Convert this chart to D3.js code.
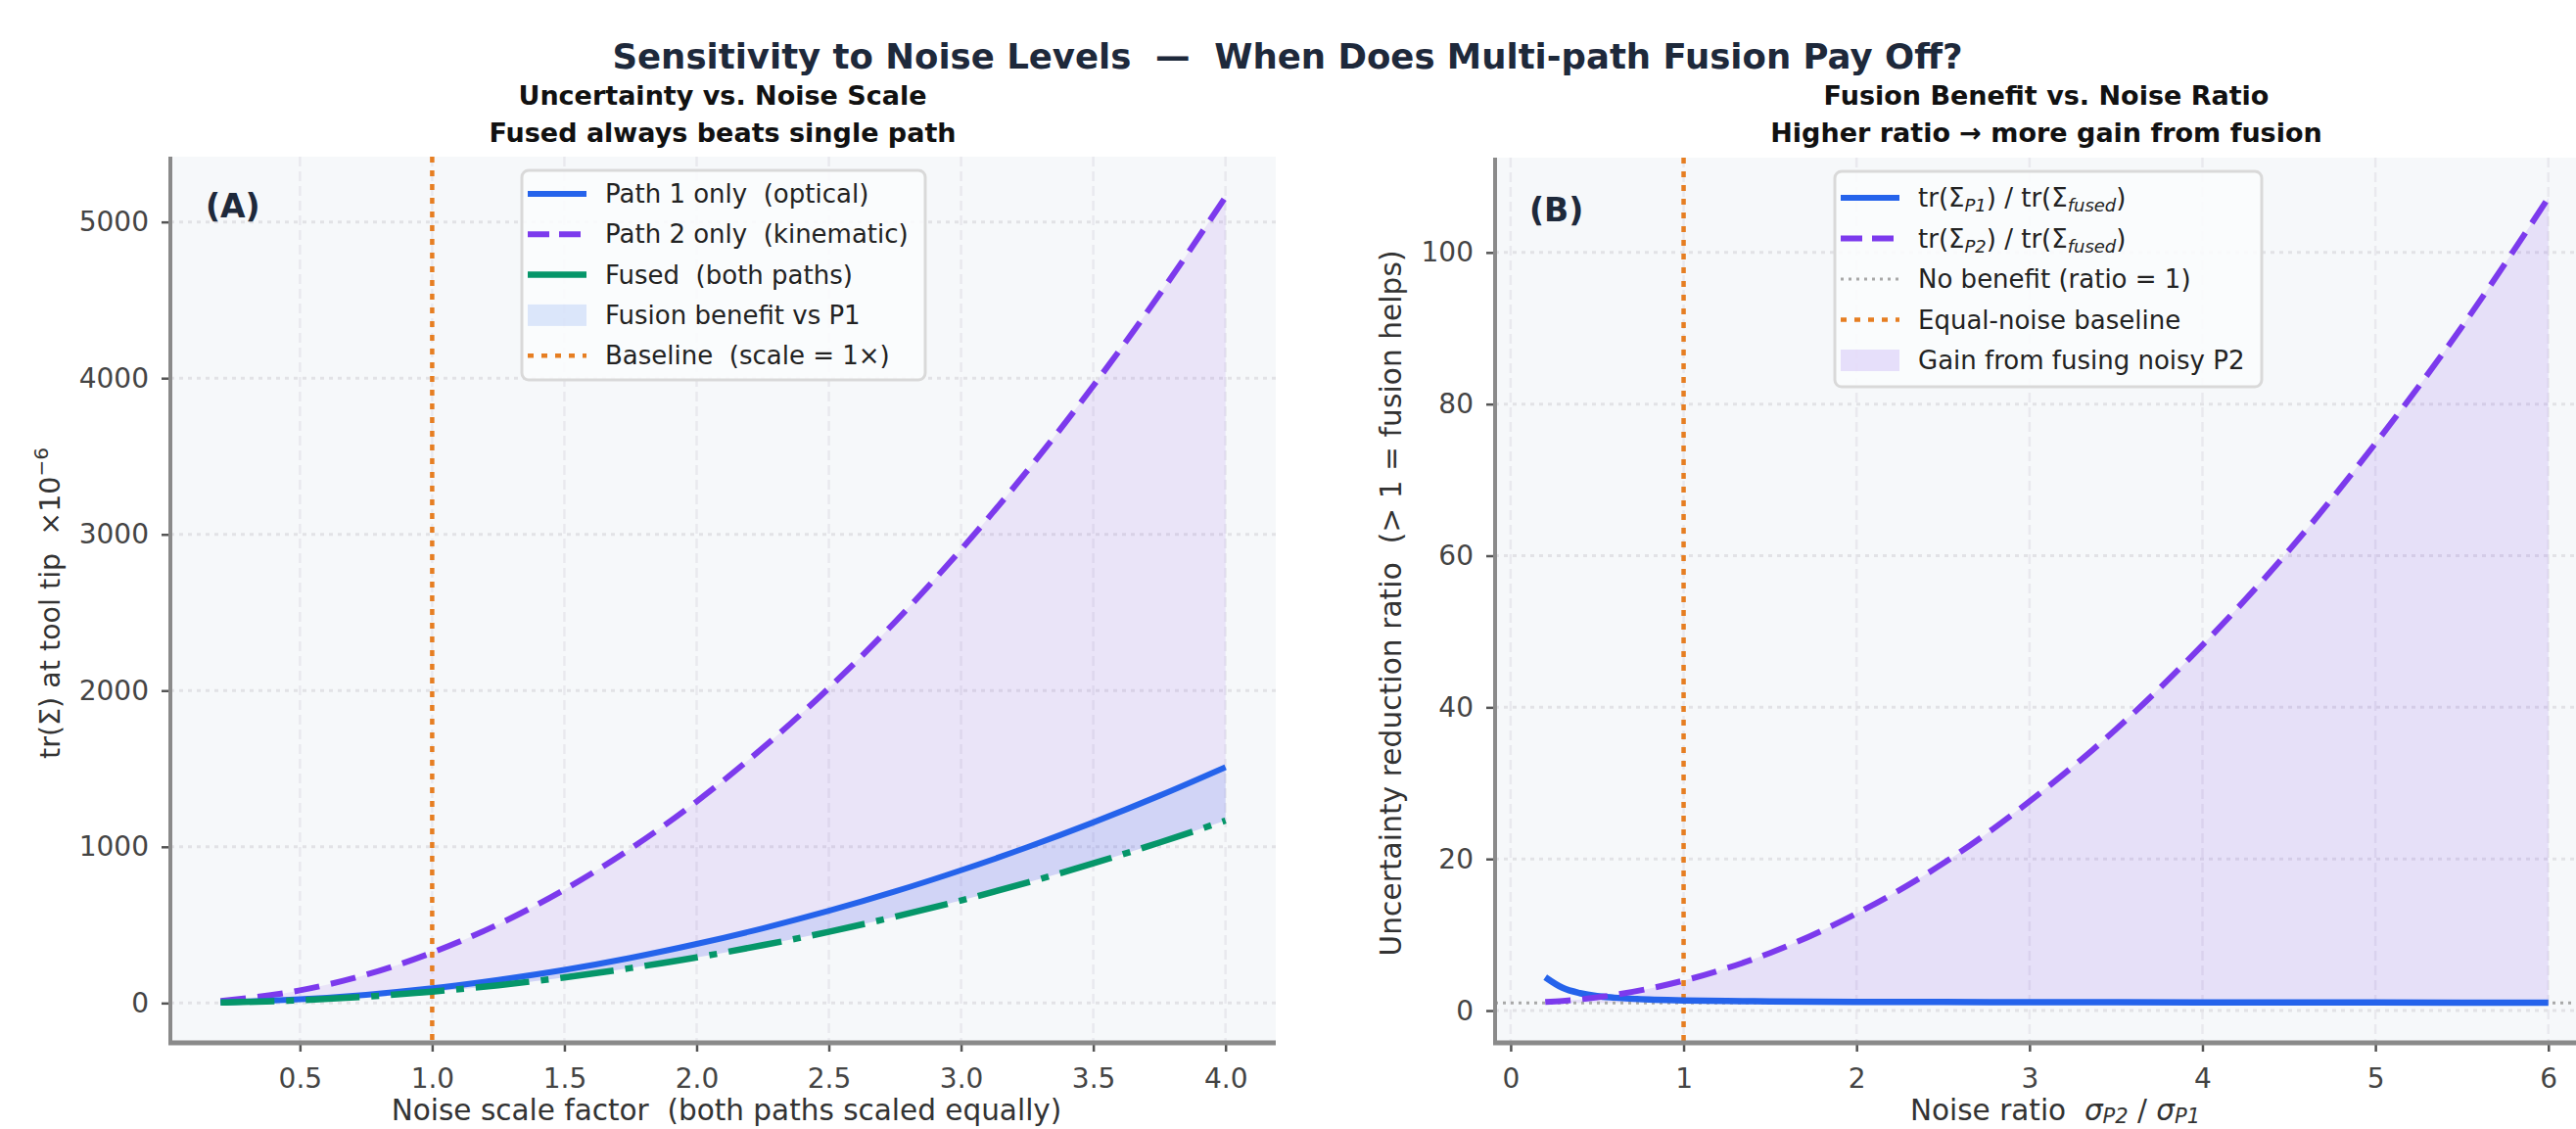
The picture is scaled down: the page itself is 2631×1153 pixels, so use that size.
<!DOCTYPE html>
<html>
<head>
<meta charset="utf-8">
<script src="https://cdn.jsdelivr.net/npm/d3@7"></script>
<style>
body { margin: 0; background: #fff; }
svg { display: block; font-family: "DejaVu Sans", sans-serif; }
text { white-space: pre; }
</style>
</head>
<body>
<svg id="chart" width="2631" height="1153"></svg>
<script>
// panel A: trace of covariance vs common noise scale
const noiseScale = [0.2, 0.5, 0.75, 1.0, 1.25, 1.5, 1.75, 2.0, 2.25, 2.5, 2.75, 3.0, 3.25, 3.5, 3.75, 4.0];
const tracePath1 = [4, 24, 53, 94, 148, 212, 289, 378, 478, 590, 714, 850, 997, 1156, 1327, 1510];
const tracePath2 = [13, 81, 181, 323, 504, 726, 988, 1290, 1633, 2016, 2439, 2903, 3406, 3951, 4535, 5160];
const traceFused = [3, 18, 41, 73, 114, 164, 224, 292, 370, 456, 552, 657, 771, 894, 1027, 1168];
const scaleTicks = [0.5, 1.0, 1.5, 2.0, 2.5, 3.0, 3.5, 4.0];
const traceTicks = [0, 1000, 2000, 3000, 4000, 5000];

// panel B: reduction ratio vs noise ratio sigma_P2 / sigma_P1
const noiseRatio = [0.2, 0.3, 0.4, 0.5, 0.6, 0.8, 1.0, 1.25, 1.5, 2.0, 2.5, 3.0, 3.5, 4.0, 4.5, 5.0, 5.5, 6.0];
const ratioP1 = [4.4, 3.0, 2.3, 1.9, 1.7, 1.45, 1.34, 1.25, 1.2, 1.15, 1.12, 1.1, 1.09, 1.08, 1.07, 1.06, 1.05, 1.05];
const ratioP2 = [1.12, 1.27, 1.47, 1.74, 2.06, 2.89, 3.95, 5.6, 7.6, 12.8, 19.4, 27.6, 37.1, 48.2, 60.7, 74.8, 90.2, 107.2];
const ratioTicksX = [0, 1, 2, 3, 4, 5, 6];
const ratioTicksY = [0, 20, 40, 60, 80, 100];

const BLUE = '#2563eb', PURPLE = '#7c3aed', GREEN = '#059669', ORANGE = '#e67e22', NAVY = '#1e293b';

const svg = d3.select('#chart');

function padded(vals){
    const [lo, hi] = d3.extent(vals);
    const m = (hi - lo) * 0.05;
    return [lo - m, hi + m];
}

function makePanel({id, left, right, top, bottom, xDomain, yDomain, xTicks, yTicks, xFmt}){
    const x = d3.scaleLinear().domain(xDomain).range([left, right]);
    const y = d3.scaleLinear().domain(yDomain).range([bottom, top]);
    const g = svg.append('g');
    svg.append('clipPath').attr('id', 'clip' + id)
        .append('rect').attr('x', left).attr('y', top)
        .attr('width', right - left).attr('height', bottom - top);
    g.append('rect').attr('x', left).attr('y', top)
        .attr('width', right - left).attr('height', bottom - top)
        .attr('fill', '#f6f8fa');
    const grid = g.append('g').attr('clip-path', `url(#clip${id})`);
    grid.selectAll('.vg').data(xTicks).enter().append('line')
        .attr('x1', d => x(d)).attr('x2', d => x(d)).attr('y1', top).attr('y2', bottom)
        .attr('stroke', '#e9e9ee').attr('stroke-width', 2.5).attr('stroke-dasharray', '10,5');
    grid.selectAll('.hg').data(yTicks).enter().append('line')
        .attr('x1', left).attr('x2', right).attr('y1', d => y(d)).attr('y2', d => y(d))
        .attr('stroke', '#e2e2e6').attr('stroke-width', 3).attr('stroke-dasharray', '4,5');
    const plot = g.append('g').attr('clip-path', `url(#clip${id})`);

    const xAxis = g.append('g').attr('transform', `translate(0,${bottom})`)
        .call(d3.axisBottom(x).tickValues(xTicks).tickFormat(xFmt).tickSize(9).tickPadding(17));
    const yAxis = g.append('g').attr('transform', `translate(${left},0)`)
        .call(d3.axisLeft(y).tickValues(yTicks).tickFormat(d3.format('d')).tickSize(9).tickPadding(13));
    [xAxis, yAxis].forEach(a => {
        a.select('.domain').remove();
        a.selectAll('.tick line').attr('stroke', '#555').attr('stroke-width', 2.5);
        a.selectAll('.tick text').attr('fill', '#444').style('font-size', '28px')
            .style('font-family', '"DejaVu Sans", sans-serif');
    });
    g.append('line').attr('x1', left).attr('x2', left).attr('y1', top).attr('y2', bottom + 2)
        .attr('stroke', '#8a8a8a').attr('stroke-width', 4);
    g.append('line').attr('x1', left - 2).attr('x2', right).attr('y1', bottom).attr('y2', bottom)
        .attr('stroke', '#8a8a8a').attr('stroke-width', 5);
    return {x, y, g, plot};
}

function drawLine(plot, xs, ys, x, y, color, width, dash){
    const line = d3.line().x((d, i) => x(xs[i])).y(d => y(d)).curve(d3.curveMonotoneX);
    plot.append('path').datum(ys).attr('d', line)
        .attr('fill', 'none').attr('stroke', color).attr('stroke-width', width)
        .attr('stroke-dasharray', dash || null);
}

function drawBand(plot, xs, lo, hi, x, y, color, opacity){
    const area = d3.area().x((d, i) => x(xs[i])).y0((d, i) => y(lo[i])).y1(d => y(d))
        .curve(d3.curveMonotoneX);
    plot.append('path').datum(hi).attr('d', area)
        .attr('fill', color).attr('fill-opacity', opacity);
}

function legend(g, {x0, y0, w, h, first, step, items}){
    g.append('rect').attr('x', x0).attr('y', y0).attr('width', w).attr('height', h)
        .attr('rx', 7).attr('fill', '#fbfcfd').attr('fill-opacity', 0.9)
        .attr('stroke', '#d9d9d9').attr('stroke-width', 3);
    items.forEach((it, i) => {
        const cy = y0 + first + i * step;
        if(it.kind === 'rect'){
            g.append('rect').attr('x', x0 + 6).attr('y', cy - 11).attr('width', 60).attr('height', 22)
                .attr('fill', it.color).attr('fill-opacity', it.opacity);
        } else {
            g.append('line').attr('x1', x0 + 6).attr('x2', x0 + 66).attr('y1', cy).attr('y2', cy)
                .attr('stroke', it.color).attr('stroke-width', it.width)
                .attr('stroke-dasharray', it.dash || null);
        }
        const t = g.append('text').attr('x', x0 + 85).attr('y', cy + 9)
            .attr('fill', '#222').style('font-size', '26px');
        it.label.forEach(part => {
            const s = t.append('tspan').text(part.t);
            if(part.sub) s.attr('font-style', 'italic').attr('font-size', '18px').attr('baseline-shift', '-5');
        });
    });
}

// ---------- panel A ----------
const A = makePanel({id: 'A', left: 174, right: 1303, top: 160, bottom: 1065,
    xDomain: padded(noiseScale), yDomain: padded([...tracePath2, ...traceFused]),
    xTicks: scaleTicks, yTicks: traceTicks, xFmt: d3.format('.1f')});
drawBand(A.plot, noiseScale, traceFused, tracePath2, A.x, A.y, PURPLE, 0.1);
drawBand(A.plot, noiseScale, traceFused, tracePath1, A.x, A.y, BLUE, 0.12);
A.plot.append('line').attr('x1', A.x(1)).attr('x2', A.x(1)).attr('y1', 160).attr('y2', 1065)
    .attr('stroke', ORANGE).attr('stroke-width', 4.5).attr('stroke-dasharray', '6,8');
drawLine(A.plot, noiseScale, tracePath2, A.x, A.y, PURPLE, 6, '26,12');
drawLine(A.plot, noiseScale, tracePath1, A.x, A.y, BLUE, 6);
drawLine(A.plot, noiseScale, traceFused, A.x, A.y, GREEN, 6.5, '55,12,8,12');
A.g.append('text').attr('x', 210).attr('y', 222).attr('fill', NAVY)
    .attr('font-weight', 'bold').style('font-size', '33px').text('(A)');
legend(A.g, {x0: 533, y0: 174, w: 412, h: 214, first: 24, step: 41.3, items: [
    {kind: 'line', color: BLUE, width: 6, label: [{t: 'Path 1 only  (optical)'}]},
    {kind: 'line', color: PURPLE, width: 6, dash: '22,10', label: [{t: 'Path 2 only  (kinematic)'}]},
    {kind: 'line', color: GREEN, width: 6.5, label: [{t: 'Fused  (both paths)'}]},
    {kind: 'rect', color: BLUE, opacity: 0.14, label: [{t: 'Fusion benefit vs P1'}]},
    {kind: 'line', color: ORANGE, width: 4.5, dash: '6,8', label: [{t: 'Baseline  (scale = 1×)'}]}
]});

// ---------- panel B ----------
const B = makePanel({id: 'B', left: 1527, right: 2654, top: 161, bottom: 1065,
    xDomain: padded(noiseRatio), yDomain: padded([...ratioP1, ...ratioP2]),
    xTicks: ratioTicksX, yTicks: ratioTicksY, xFmt: d3.format('d')});
drawBand(B.plot, noiseRatio, noiseRatio.map(() => 1), ratioP2, B.x, B.y, PURPLE, 0.13);
B.plot.append('line').attr('x1', 1527).attr('x2', 2654).attr('y1', B.y(1)).attr('y2', B.y(1))
    .attr('stroke', '#a8a8a8').attr('stroke-width', 3).attr('stroke-dasharray', '3,5');
B.plot.append('line').attr('x1', B.x(1)).attr('x2', B.x(1)).attr('y1', 161).attr('y2', 1065)
    .attr('stroke', ORANGE).attr('stroke-width', 4.5).attr('stroke-dasharray', '6,8');
drawLine(B.plot, noiseRatio, ratioP1, B.x, B.y, BLUE, 6.5);
drawLine(B.plot, noiseRatio, ratioP2, B.x, B.y, PURPLE, 6, '26,12');
B.g.append('text').attr('x', 1562).attr('y', 226).attr('fill', NAVY)
    .attr('font-weight', 'bold').style('font-size', '33px').text('(B)');
legend(B.g, {x0: 1874, y0: 175, w: 436, h: 220, first: 27, step: 41.5, items: [
    {kind: 'line', color: BLUE, width: 6, label: [{t: 'tr(Σ'}, {t: 'P1', sub: true}, {t: ') / tr(Σ'}, {t: 'fused', sub: true}, {t: ')'}]},
    {kind: 'line', color: PURPLE, width: 6, dash: '22,10', label: [{t: 'tr(Σ'}, {t: 'P2', sub: true}, {t: ') / tr(Σ'}, {t: 'fused', sub: true}, {t: ')'}]},
    {kind: 'line', color: '#a8a8a8', width: 3, dash: '3,5', label: [{t: 'No benefit (ratio = 1)'}]},
    {kind: 'line', color: ORANGE, width: 4.5, dash: '6,8', label: [{t: 'Equal-noise baseline'}]},
    {kind: 'rect', color: PURPLE, opacity: 0.15, label: [{t: 'Gain from fusing noisy P2'}]}
]});

// ---------- titles and axis labels ----------
svg.append('text').attr('x', 1315).attr('y', 70).attr('text-anchor', 'middle')
    .attr('fill', NAVY).attr('font-weight', 'bold').style('font-size', '35.5px')
    .text('Sensitivity to Noise Levels  —  When Does Multi-path Fusion Pay Off?');
[[738, 'Uncertainty vs. Noise Scale', 'Fused always beats single path'],
 [2090, 'Fusion Benefit vs. Noise Ratio', 'Higher ratio → more gain from fusion']].forEach(([cx, l1, l2]) => {
    svg.append('text').attr('x', cx).attr('y', 107).attr('text-anchor', 'middle')
        .attr('fill', '#111').attr('font-weight', 'bold').style('font-size', '27px').text(l1);
    svg.append('text').attr('x', cx).attr('y', 145).attr('text-anchor', 'middle')
        .attr('fill', '#111').attr('font-weight', 'bold').style('font-size', '27px').text(l2);
});

svg.append('text').attr('x', 742).attr('y', 1144).attr('text-anchor', 'middle')
    .attr('fill', '#333').style('font-size', '29.5px')
    .text('Noise scale factor  (both paths scaled equally)');
const xlB = svg.append('text').attr('x', 2099).attr('y', 1144).attr('text-anchor', 'middle')
    .attr('fill', '#333').style('font-size', '29.5px');
xlB.append('tspan').text('Noise ratio  ');
xlB.append('tspan').attr('font-style', 'italic').text('σ');
xlB.append('tspan').attr('font-style', 'italic').attr('font-size', '21px').attr('baseline-shift', '-3').text('P2');
xlB.append('tspan').text(' / ');
xlB.append('tspan').attr('font-style', 'italic').text('σ');
xlB.append('tspan').attr('font-style', 'italic').attr('font-size', '21px').attr('baseline-shift', '-3').text('P1');

const ylA = svg.append('text').attr('transform', 'translate(61,616) rotate(-90)')
    .attr('text-anchor', 'middle').attr('fill', '#333').style('font-size', '28.5px');
ylA.append('tspan').text('tr(Σ) at tool tip  ×10');
ylA.append('tspan').attr('font-size', '20px').attr('baseline-shift', '12').text('−6');
svg.append('text').attr('transform', 'translate(1431,616) rotate(-90)')
    .attr('text-anchor', 'middle').attr('fill', '#333').style('font-size', '29.5px')
    .attr('textLength', 721).attr('lengthAdjust', 'spacing')
    .text('Uncertainty reduction ratio  (> 1 = fusion helps)');
</script>
</body>
</html>
